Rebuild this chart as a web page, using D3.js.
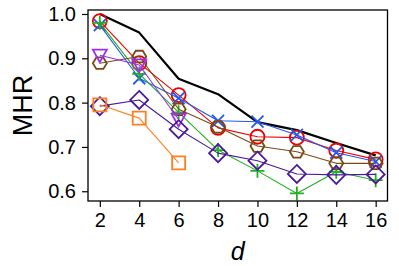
<!DOCTYPE html>
<html>
<head>
<meta charset="utf-8">
<script src="https://cdn.jsdelivr.net/npm/d3@7"></script>
<style>
  body { margin: 0; background: #fff; }
  svg text { font-family: "Liberation Sans", Arial, sans-serif; fill: #000; }
</style>
</head>
<body>
<svg width="399" height="266"></svg>
<script>
// Data
const dValues = [2, 4, 6, 8, 10, 12, 14, 16];
const upperBound = [1.0, 0.958, 0.854, 0.819, 0.756, 0.738, 0.709, 0.681];
const redCircle = [0.984, 0.889, 0.817, 0.743, 0.723, 0.721, 0.692, 0.672];
const blueX = [0.975, 0.855, 0.81, 0.759, 0.757, 0.727, 0.687, 0.667];
const greenPlus = [0.98, 0.865, 0.778, 0.693, 0.646, 0.595, 0.644, 0.625];
const brownHex = [0.889, 0.904, 0.785, 0.745, 0.702, 0.689, 0.663, 0.663];
const violetTri = [0.907, 0.885, 0.762];
const indigoDiamond = [0.792, 0.806, 0.74, 0.686, 0.669, 0.639, 0.637, 0.638];
const orangeSquare = [0.795, 0.765, 0.664];
const yTicks = [0.6, 0.7, 0.8, 0.9, 1.0];

const svg = d3.select("svg"),
    margin = {top: 10, right: 11.5, bottom: 65, left: 88},
    width = +svg.attr("width") - margin.left - margin.right,
    height = +svg.attr("height") - margin.top - margin.bottom;

const x = d3.scaleLinear().domain([1.4, 16.6]).range([0, width]);
const y = d3.scaleLinear().domain([0.578, 1.009]).range([height, 0]);

const g = svg.append("g").attr("transform", `translate(${margin.left},${margin.top})`);

// marker shapes
function markerPath(type, r) {
    const p = d3.path();
    if (type === "circle") {
        p.moveTo(r, 0); p.arc(0, 0, r, 0, 2 * Math.PI); p.closePath();
    } else if (type === "plus") {
        p.moveTo(-r, 0); p.lineTo(r, 0); p.moveTo(0, -r); p.lineTo(0, r);
    } else if (type === "x") {
        p.moveTo(-r, -r); p.lineTo(r, r); p.moveTo(-r, r); p.lineTo(r, -r);
    } else if (type === "tri") {
        p.moveTo(0, r); p.lineTo(-r, -r * 0.8); p.lineTo(r, -r * 0.8); p.closePath();
    } else if (type === "square") {
        p.rect(-r, -r, 2 * r, 2 * r);
    } else if (type === "diamond") {
        p.moveTo(0, -r); p.lineTo(r, 0); p.lineTo(0, r); p.lineTo(-r, 0); p.closePath();
    } else if (type === "hex") {
        for (let i = 0; i < 6; i++) {
            const a = Math.PI / 3 * i;
            const px = r * Math.cos(a), py = r * Math.sin(a) * 0.95;
            if (i === 0) p.moveTo(px, py); else p.lineTo(px, py);
        }
        p.closePath();
    }
    return p.toString();
}

const series = [
    {values: upperBound, color: "#000000", width: 2.2, marker: null},
    {values: redCircle, color: "#ee0000", width: 1.1, marker: "circle", r: 7},
    {values: blueX, color: "#1f5af0", width: 1.1, marker: "x", r: 6},
    {values: greenPlus, color: "#22b022", width: 1.1, marker: "plus", r: 7},
    {values: brownHex, color: "#7a4a16", width: 1.1, marker: "hex", r: 7},
    {values: violetTri, color: "#9b30f0", width: 1.1, marker: "tri", r: 7},
    {values: indigoDiamond, color: "#4a1a9a", width: 1.1, marker: "diamond", r: 9},
    {values: orangeSquare, color: "#ff7f1e", width: 1.1, marker: "square", r: 6.5}
];

const line = d3.line().x(d => x(d[0])).y(d => y(d[1]));

series.forEach(s => {
    const pts = s.values.map((v, i) => [dValues[i], v]);
    g.append("path")
        .datum(pts)
        .attr("d", line)
        .attr("fill", "none")
        .attr("stroke", s.color)
        .attr("stroke-width", s.width)
        .attr("stroke-linejoin", "round");
    if (s.marker) {
        g.append("g")
            .selectAll("path")
            .data(pts)
            .join("path")
            .attr("transform", d => `translate(${x(d[0])},${y(d[1])})`)
            .attr("d", markerPath(s.marker, s.r))
            .attr("fill", "none")
            .attr("stroke", s.color)
            .attr("stroke-width", 1.8);
    }
});

// axes
const xAxis = g.append("g")
    .attr("transform", `translate(0,${height})`)
    .call(d3.axisBottom(x).tickValues(dValues).tickSize(6).tickPadding(6));
const yAxis = g.append("g")
    .call(d3.axisLeft(y).tickValues(yTicks).tickFormat(d3.format(".1f")).tickSize(6).tickPadding(6));

[xAxis, yAxis].forEach(a => {
    a.select(".domain").remove();
    a.selectAll("line").attr("stroke", "#000").attr("stroke-width", 1.2);
    a.selectAll("text").style("font-size", "20px");
});

// frame
g.append("rect")
    .attr("width", width).attr("height", height)
    .attr("fill", "none").attr("stroke", "#000").attr("stroke-width", 1.3);

// labels
svg.append("text")
    .attr("transform", `translate(32,${margin.top + height / 2}) rotate(-90)`)
    .attr("text-anchor", "middle")
    .style("font-size", "27px")
    .text("MHR");

svg.append("text")
    .attr("x", margin.left + width / 2)
    .attr("y", 260)
    .attr("text-anchor", "middle")
    .style("font-size", "25px")
    .style("font-style", "italic")
    .text("d");
</script>
</body>
</html>
